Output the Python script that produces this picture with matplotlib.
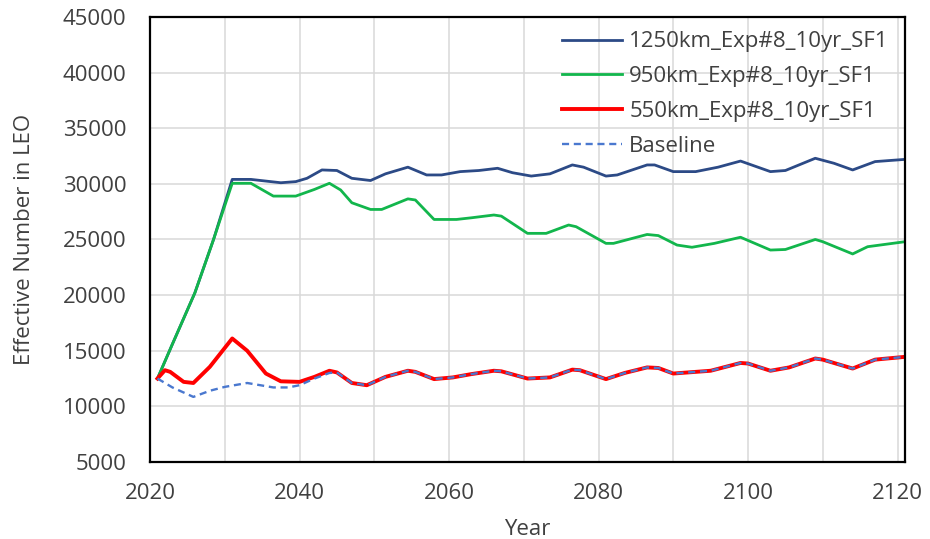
import matplotlib
matplotlib.use("Agg")
import matplotlib.pyplot as plt

# values
years_1250 = [2021, 2023, 2026, 2028.5, 2031, 2033.5, 2037.5, 2039.5, 2041, 2043, 2045, 2047,
              2049.5, 2051.5, 2054.5, 2057, 2059, 2061.5, 2064, 2066.5, 2068.5, 2071, 2073.5,
              2076.5, 2078, 2081, 2082.5, 2086.5, 2087.5, 2090, 2093, 2096, 2099, 2103, 2105,
              2109, 2111.5, 2114, 2117, 2121]
vals_1250 = [12500, 15600, 20200, 25000, 30400, 30400, 30100, 30200, 30500, 31250, 31200, 30500,
             30300, 30900, 31500, 30800, 30800, 31100, 31200, 31400, 31000, 30700, 30900,
             31700, 31500, 30700, 30800, 31700, 31700, 31100, 31100, 31500, 32050, 31100, 31200,
             32300, 31850, 31250, 32000, 32200]

years_950 = [2021, 2023, 2026, 2028.5, 2031, 2033.5, 2036.5, 2039.5, 2042, 2044, 2045.5, 2047,
             2049.5, 2051, 2054.5, 2055.5, 2058, 2061, 2063, 2066, 2067, 2070.5, 2073, 2076,
             2077, 2081, 2082, 2086.5, 2088, 2090.5, 2092.5, 2095.5, 2099, 2103, 2105, 2109,
             2110, 2114, 2116, 2121]
vals_950 = [12500, 15600, 20200, 25000, 30050, 30050, 28900, 28900, 29500, 30050, 29450, 28300,
            27700, 27700, 28650, 28550, 26800, 26800, 26950, 27200, 27100, 25550, 25550, 26300,
            26150, 24650, 24650, 25450, 25350, 24500, 24300, 24650, 25200, 24050, 24100, 25000,
            24800, 23700, 24350, 24800]

years_550 = [2021, 2022, 2022.7, 2024.5, 2025.8, 2028, 2031, 2033, 2035.5, 2037.5, 2040, 2042,
             2044, 2045, 2047, 2049, 2051.5, 2054.5, 2055.5, 2058, 2060.5, 2063, 2066, 2067,
             2070.5, 2073.5, 2076.5, 2077.5, 2081, 2083.5, 2086.5, 2088, 2090, 2095, 2099, 2100,
             2103, 2105.5, 2109, 2110, 2114, 2117, 2121]
vals_550 = [12500, 13250, 13100, 12200, 12100, 13550, 16100, 15000, 12950, 12250, 12200, 12650,
            13200, 13050, 12100, 11900, 12650, 13200, 13100, 12450, 12600, 12900, 13200, 13150,
            12500, 12600, 13300, 13250, 12450, 13000, 13500, 13450, 12950, 13200, 13900, 13850,
            13200, 13500, 14300, 14200, 13400, 14200, 14450]

years_base = [2021, 2023, 2025.8, 2028, 2030, 2033, 2036.5, 2038.5, 2040, 2042, 2044, 2045, 2047,
              2049, 2051.5, 2054.5, 2055.5, 2058, 2060.5, 2063, 2066, 2067, 2070.5, 2073.5,
              2076.5, 2077.5, 2081, 2083.5, 2086.5, 2088, 2090, 2095, 2099, 2100, 2103, 2105.5,
              2109, 2110, 2114, 2117, 2121]
vals_base = [12500, 11700, 10850, 11400, 11750, 12100, 11700, 11700, 11900, 12500, 13000, 13050,
             12100, 11900, 12650, 13200, 13100, 12450, 12600, 12900, 13200, 13150, 12500, 12600,
             13300, 13250, 12450, 13000, 13500, 13450, 12950, 13200, 13900, 13850, 13200, 13500,
             14300, 14200, 13400, 14200, 14450]

x_ticks = [2020, 2040, 2060, 2080, 2100, 2120]
y_ticks = [5000, 10000, 15000, 20000, 25000, 30000, 35000, 40000, 45000]

plt.rcParams['font.family'] = ['Open Sans', 'DejaVu Sans']
text_col = "#404040"
fs = 16

fig = plt.figure(figsize=(9.3, 5.39), dpi=100)
ax = fig.add_axes([0.1613, 0.1429, 0.8118, 0.8256])

ax.plot(years_1250, vals_1250, color="#2C4A86", lw=2.0, label="1250km_Exp#8_10yr_SF1")
ax.plot(years_950, vals_950, color="#12B64C", lw=2.0, label="950km_Exp#8_10yr_SF1")
ax.plot(years_550, vals_550, color="#FF0000", lw=2.8, label="550km_Exp#8_10yr_SF1")
ax.plot(years_base, vals_base, color="#4A78CF", lw=1.7, linestyle=(0, (3, 2)), label="Baseline")

ax.set_xlim(2020, 2121)
ax.set_ylim(5000, 45000)
ax.set_xticks(x_ticks)
ax.set_xticks(range(2030, 2121, 20), minor=True)
ax.set_yticks(y_ticks)
ax.grid(True, which="both", color="#D9D9D9", lw=1.1)
ax.set_axisbelow(True)
ax.tick_params(which="both", length=0, labelsize=fs, colors=text_col)
ax.tick_params(axis="x", pad=15)
ax.tick_params(axis="y", pad=17)
for s in ax.spines.values():
    s.set_color("black")
    s.set_linewidth(1.6)

ax.set_xlabel("Year", fontsize=fs, color=text_col, labelpad=11)
ax.set_ylabel("Effective Number in LEO", fontsize=fs, color=text_col, labelpad=20)

leg = ax.legend(loc="upper left", bbox_to_anchor=(0.526, 1.0), frameon=False, fontsize=fs,
                handlelength=2.7, handletextpad=0.35, labelspacing=0.62, borderaxespad=0.25)
for t in leg.get_texts():
    t.set_color(text_col)

fig.savefig("out.png", dpi=100)
